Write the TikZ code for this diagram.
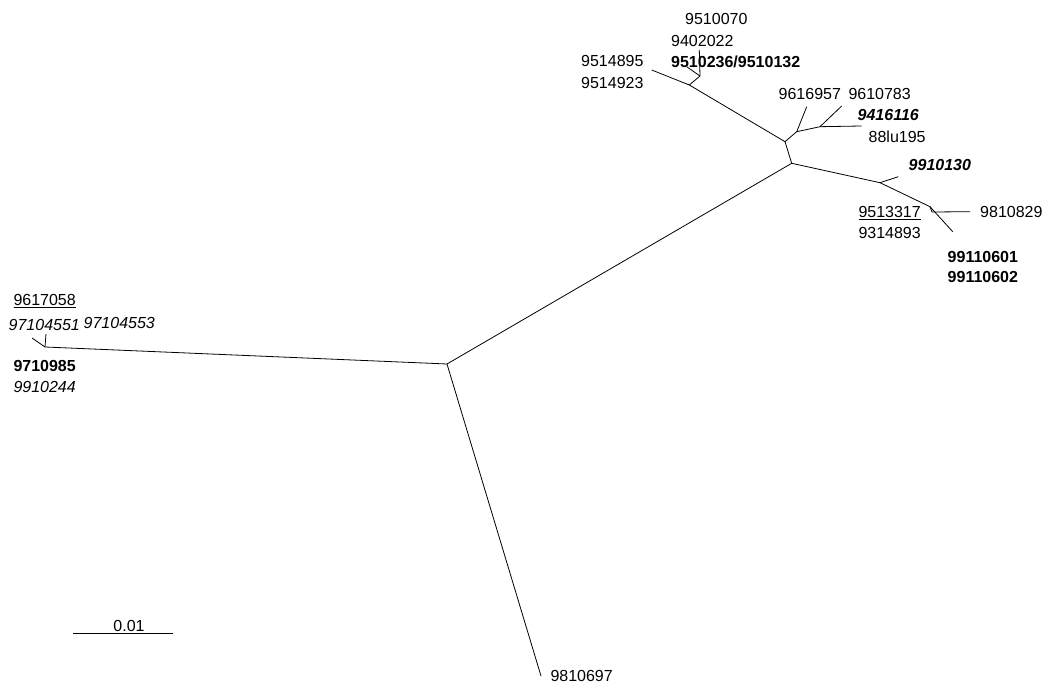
\documentclass[tikz,border=0pt]{standalone}
\usepackage{fontspec}
\setmainfont{Liberation Sans}
\begin{document}
\begin{tikzpicture}[x=1pt,y=-1pt,
  br/.style={line width=0.8pt},
  lab/.style={anchor=base west, inner sep=0pt, font=\fontsize{16}{19}\selectfont},
  blab/.style={lab, font=\fontsize{16}{19}\selectfont\bfseries},
  ilab/.style={lab, font=\fontsize{16}{19}\selectfont\itshape},
  bilab/.style={lab, font=\fontsize{16}{19}\selectfont\bfseries\itshape}]
\useasboundingbox (0,0) rectangle (1045,684);
% internal nodes and tips
\coordinate (A) at (447,364);
\coordinate (L) at (45,347);
\coordinate (L1) at (32,338);
\coordinate (L2) at (46,334);
\coordinate (Bt) at (541,676);
\coordinate (B) at (791.7,163.3);
\coordinate (C) at (785,141.7);
\coordinate (D) at (689.3,85);
\coordinate (D1) at (651.7,70);
\coordinate (E) at (700,76);
\coordinate (E1) at (699.3,50);
\coordinate (E2) at (686.7,66.7);
\coordinate (F) at (796.7,131.7);
\coordinate (F1) at (806.7,106.7);
\coordinate (G) at (820,126.7);
\coordinate (G1) at (841.7,106);
\coordinate (G2) at (861.7,126);
\coordinate (H) at (880,182.7);
\coordinate (H1) at (898.3,176.7);
\coordinate (I) at (930,206.7);
\coordinate (I1) at (952.7,231.7);
\coordinate (I2) at (932,212);
\coordinate (I3) at (970,211.7);
\coordinate (S1) at (73,633.3);
\coordinate (S2) at (173.3,633.3);
% branches
\draw[br] (A) -- (L);
\draw[br] (L) -- (L1);
\draw[br] (L) -- (L2);
\draw[br] (A) -- (Bt);
\draw[br] (A) -- (B);
\draw[br] (B) -- (C);
\draw[br] (C) -- (D);
\draw[br] (D) -- (D1);
\draw[br] (D) -- (E);
\draw[br] (E) -- (E1);
\draw[br] (E) -- (E2);
\draw[br] (C) -- (F);
\draw[br] (F) -- (F1);
\draw[br] (F) -- (G);
\draw[br] (G) -- (G1);
\draw[br] (G) -- (G2);
\draw[br] (B) -- (H);
\draw[br] (H) -- (H1);
\draw[br] (H) -- (I);
\draw[br] (I) -- (I1);
\draw[br] (I) -- (I2);
\draw[br] (I2) -- (I3);
\draw[br] (S1) -- (S2);
% labels
\node[lab] (t1) at (685,24.8) {9510070};
\node[lab] (t2) at (671,46.5) {9402022};
\node[blab] (t3) at (671,67.5) {9510236/9510132};
\node[lab] (t4) at (581,67) {9514895};
\node[lab] (t5) at (581,89) {9514923};
\node[lab] (t6) at (778.5,100) {9616957};
\node[lab] (t7) at (848.3,100) {9610783};
\node[bilab] (t8) at (857.5,121) {9416116};
\node[lab] (t9) at (868.5,142.5) {88lu195};
\node[bilab] (t10) at (908.5,171) {9910130};
\node[lab] (t11) at (858.3,217.5) {\underline{9513317}};
\node[lab] (t12) at (858.3,239) {9314893};
\node[lab] (t13) at (980,217.5) {9810829};
\node[blab] (t14) at (947.5,262.5) {99110601};
\node[blab] (t15) at (947.5,283) {99110602};
\node[lab] (t16) at (13.3,306) {\underline{9617058}};
\node[ilab] (t17) at (8.5,331) {97104551};
\node[ilab] (t18) at (83.5,329) {97104553};
\node[blab] (t19) at (13.3,372) {9710985};
\node[ilab] (t20) at (13.3,393) {9910244};
\node[lab] (t21) at (550.3,681) {9810697};
\node[lab, anchor=base] (t22) at (129,631) {0.01};
\end{tikzpicture}
\end{document}
